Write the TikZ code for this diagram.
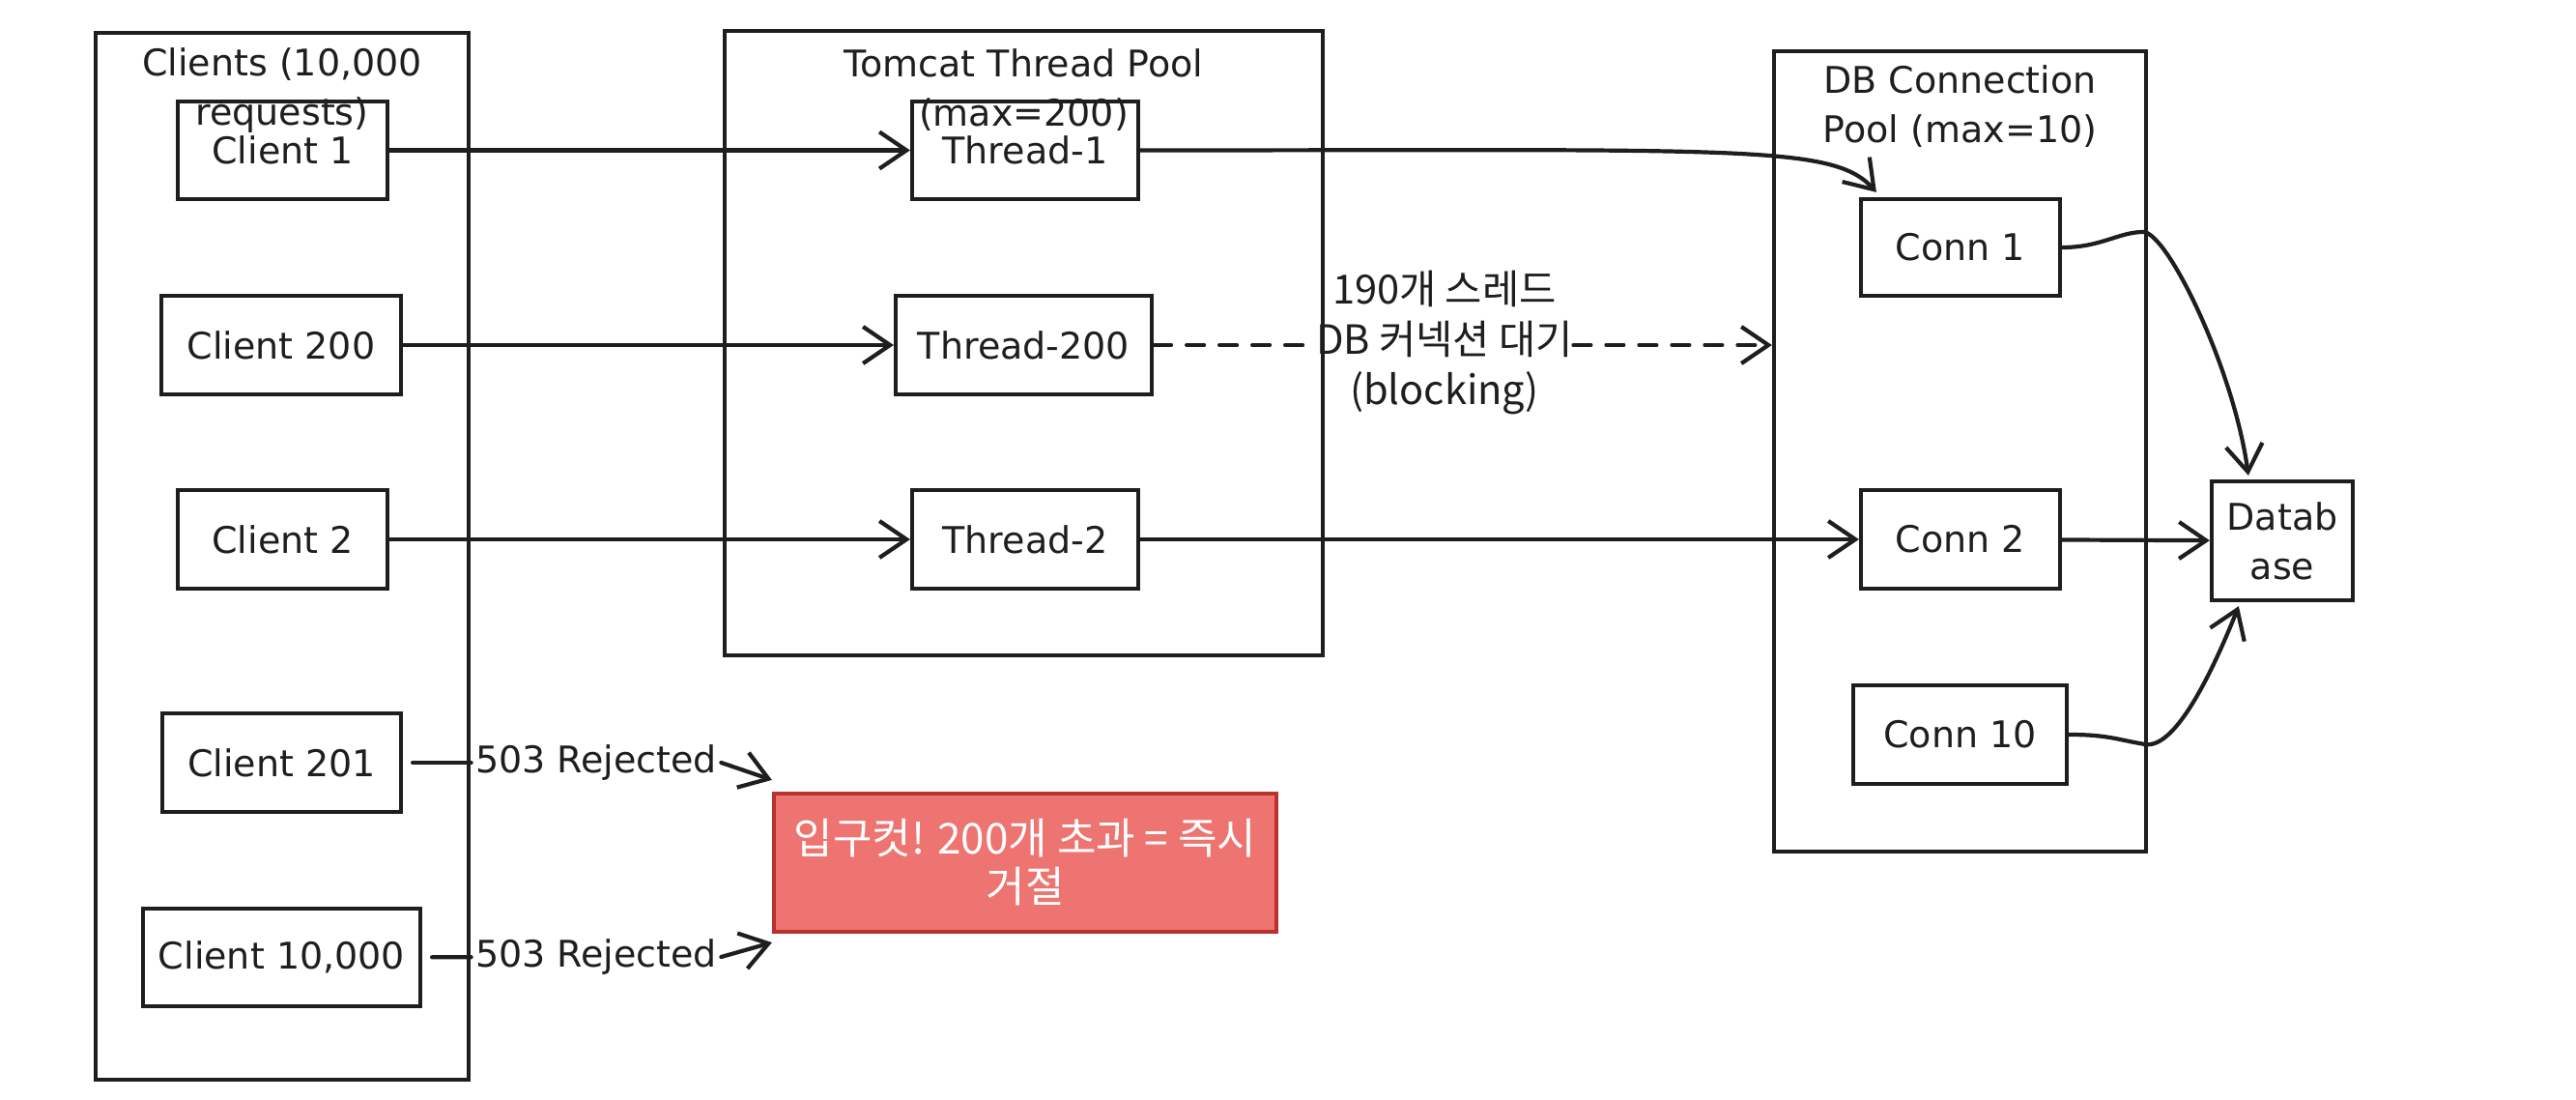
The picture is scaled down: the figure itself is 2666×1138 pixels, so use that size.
\documentclass[tikz,border=0pt]{standalone}
\usepackage{fontspec}
\setmainfont{DejaVu Sans}
\newfontfamily\kr{Noto Sans CJK KR}
\usetikzlibrary{arrows.meta,calc}
\definecolor{ink}{HTML}{1E1E1E}
\definecolor{redfill}{RGB}{237,116,112}
\definecolor{redline}{RGB}{185,50,45}
\begin{document}
\begin{tikzpicture}[x=0.5pt,y=-0.5pt,
  every node/.style={font=\fontsize{19}{25.5}\selectfont, text=ink},
  krfont/.style={font=\kr\fontsize{20.8}{26}\selectfont},
  redfont/.style={font=\kr\fontsize{22}{25}\selectfont},
  box/.style={draw=ink, line width=2.1pt, inner sep=0pt, align=center},
  frame/.style={draw=ink, line width=2.1pt, inner sep=0pt},
  title/.style={align=center, inner sep=0pt},
  conn/.style={draw=ink, line width=2.1pt, line cap=round, -{Straight Barb[length=14pt,width=19pt]}},
  plain/.style={draw=ink, line width=2.1pt, line cap=round},
  dashline/.style={dash pattern=on 9pt off 8pt},
]
\useasboundingbox (0,0) rectangle (2666,1138);

% containers
\node[frame, minimum width=193pt, minimum height=541.5pt] (clients) at (292,575.5) {};
\node[title] (clientsT) at (292,93.5) {Clients (10,000\\requests)};
\node[frame, minimum width=309.5pt, minimum height=323pt] (tomcat) at (1059.5,355) {};
\node[title] (tomcatT) at (1059.5,93.5) {Tomcat Thread Pool\\(max=200)};
\node[frame, minimum width=192.5pt, minimum height=414pt] (pool) at (2028.5,467) {};
\node[title] (poolT) at (2028.5,110.5) {DB Connection\\Pool (max=10)};

% clients
\node[box, minimum width=108.5pt, minimum height=50.5pt] (c1) at (292.5,155.5) {Client 1};
\node[box, minimum width=124pt, minimum height=51pt] (c200) at (291,357) {Client 200};
\node[box, minimum width=108.5pt, minimum height=51pt] (c2) at (292.5,558) {Client 2};
\node[box, minimum width=123.5pt, minimum height=51pt] (c201) at (291.5,789) {Client 201};
\node[box, minimum width=143.5pt, minimum height=50.5pt] (c10k) at (291.5,990.5) {Client 10,000};

% threads
\node[box, minimum width=117pt, minimum height=50.5pt] (t1) at (1061,155.5) {Thread-1};
\node[box, minimum width=132.5pt, minimum height=51pt] (t200) at (1059.5,357) {Thread-200};
\node[box, minimum width=117pt, minimum height=51pt] (t2) at (1061,558) {Thread-2};

% connections
\node[box, minimum width=103pt, minimum height=50pt] (k1) at (2029,256) {Conn 1};
\node[box, minimum width=103pt, minimum height=51pt] (k2) at (2029,558) {Conn 2};
\node[box, minimum width=110.5pt, minimum height=51pt] (k10) at (2028.5,760) {Conn 10};
\node[box, minimum width=73pt, minimum height=61.5pt] (db) at (2362,559.5) {Datab\\ase};

% reject box
\node[box, redfont, draw=redline, fill=redfill, text=white, minimum width=260pt, minimum height=71.5pt] (red) at (1061,892.5) {입구컷! 200개 초과 = 즉시\\거절};

% labels
\node[title, krfont] (wait) at (1495,355) {190개 스레드\\DB 커넥션 대기\\(blocking)};
\node[inner sep=2pt] (l1) at (617,789) {503 Rejected};
\node[inner sep=2pt] (l2) at (617,990) {503 Rejected};

\coordinate (w1) at (2218,240);
\coordinate (w2) at (2220,770);

% connectors
\draw[conn] (c1) -- (t1);
\draw[conn] (c200) -- (t200);
\draw[conn] (c2) -- (t2);
\draw[conn] (t2) -- (k2);
\draw[conn] (k2) -- (db);
\draw[conn] (t1.east) .. controls +(620,0) and +(-45,-50) .. ($(k1.north west)+(18,-5)$);
\draw[conn] (k1.east) .. controls +(40,0) and +(-25,0) .. (w1) .. controls +(25,0) and +(-15,-110) .. ($(db.north west)+(40,-4)$);
\draw[conn] (k10.east) .. controls +(40,0) and +(-30,-5) .. (w2) .. controls +(30,5) and +(-30,75) .. ($(db.south west)+(30,4)$);
\draw[plain, dashline] (t200.east) -- (t200.east -| wait.west);
\draw[conn, dashline] (wait.east |- t200) -- (t200 -| pool.west);
\draw[plain, shorten <=5pt] (c201) -- (l1);
\draw[conn] (l1.east) -- ($(red.north west)+(0,-12)$);
\draw[plain, shorten <=5pt] (c10k) -- (l2);
\draw[conn] (l2.east) -- ($(red.south west)+(0,9)$);
\end{tikzpicture}
\end{document}
